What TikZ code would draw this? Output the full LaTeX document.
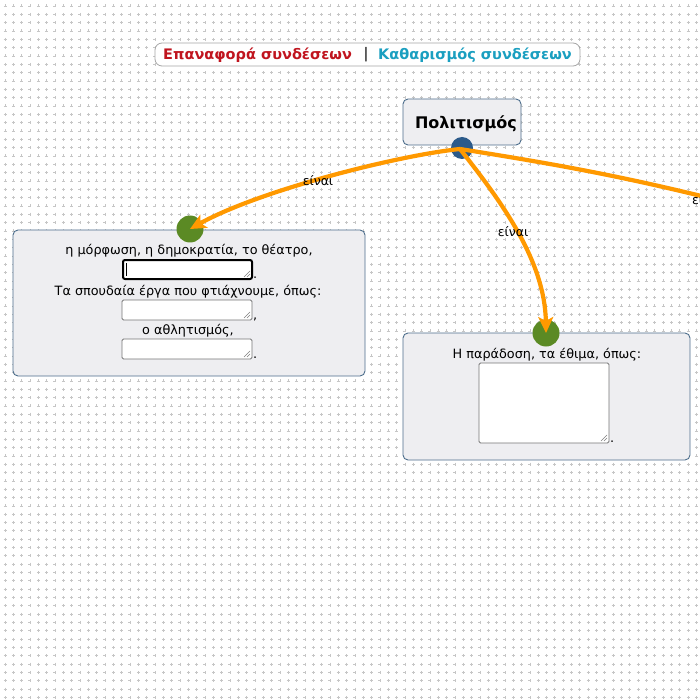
\documentclass[tikz,border=0pt]{standalone}
\usepackage{fontspec}
\setmainfont{DejaVu Sans}
\usetikzlibrary{arrows.meta}
\definecolor{boxfill}{HTML}{EEEEF1}
\definecolor{boxline}{HTML}{4D6E8C}
\definecolor{linkorange}{HTML}{FF9900}
\definecolor{dotgreen}{HTML}{5B8A24}
\definecolor{dotblue}{HTML}{2C5A8A}
\definecolor{resetred}{HTML}{C0141E}
\definecolor{clearteal}{HTML}{1A9FC0}
\definecolor{fieldline}{HTML}{767676}
\tikzset{
  conceptbox/.style={draw=boxline, line width=0.9pt, fill=boxfill, rounded corners=5pt},
  txt/.style={font=\fontsize{12.8}{14}\selectfont, inner sep=0pt, anchor=center},
  field/.style={draw=fieldline, line width=0.8pt, fill=white, rounded corners=1.5pt},
  focusfield/.style={draw=black, line width=2pt, fill=white, rounded corners=2pt},
  link/.style={draw=linkorange, line width=4.2pt, -{Stealth[length=16pt,width=15pt,inset=4pt]}},
  linklabel/.style={font=\fontsize{12.5}{14}\selectfont, inner sep=1pt},
  greendot/.style={circle, fill=dotgreen, minimum size=27pt, inner sep=0pt},
}
\begin{document}
\begin{tikzpicture}[x=1pt,y=-1pt]
\useasboundingbox (0,0) rectangle (700,700);
\clip (0,0) rectangle (700,700);
\fill[white] (0,0) rectangle (700,700);
% dotted grid
\draw[gray!45, line width=0.6pt]
  \foreach \i in {0,...,84} { \foreach \j in {0,...,84} {
    ({\i*8.33+5-1.5},{\j*8.33+6}) -- ({\i*8.33+5+1.5},{\j*8.33+6})
    ({\i*8.33+5},{\j*8.33+6-1.5}) -- ({\i*8.33+5},{\j*8.33+6+1.5}) } };

% header
\draw[gray!70, fill=white, rounded corners=7pt, line width=0.8pt] (155,43) rectangle (580,66);
\node[font=\fontsize{14.5}{16}\selectfont\bfseries, text=resetred, anchor=west, inner sep=0pt] (reset) at (163,55) {Επαναφορά συνδέσεων};
\node[font=\fontsize{14.5}{16}\selectfont, anchor=center, inner sep=0pt] (bar) at (366,55) {|};
\node[font=\fontsize{14.5}{16}\selectfont\bfseries, text=clearteal, anchor=west, inner sep=0pt] (clear) at (378,55) {Καθαρισμός συνδέσεων};

% left box
\draw[conceptbox] (13,230) rectangle (365,376);
\node[txt] (t1) at (189,251) {η μόρφωση, η δημοκρατία, το θέατρο,};
\draw[focusfield] (123,260) rectangle (252,279);
\draw[black, line width=0.8pt] (126.5,263) -- (126.5,276);
\draw[gray, line width=0.5pt] (244,277) -- (250,271) (247,277) -- (250,274);
\node[txt, anchor=base west] (p1) at (253,278) {.};
\node[txt] (t2) at (188,292) {Τα σπουδαία έργα που φτιάχνουμε, όπως:};
\draw[field] (122,300) rectangle (252,320);
\draw[gray, line width=0.5pt] (244,318) -- (250,312) (247,318) -- (250,315);
\node[txt, anchor=base west] (p2) at (253,319) {,};
\node[txt] (t3) at (188,331) {ο αθλητισμός,};
\draw[field] (122,339) rectangle (252,359);
\draw[gray, line width=0.5pt] (244,357) -- (250,351) (247,357) -- (250,354);
\node[txt, anchor=base west] (p3) at (253,358) {.};

% right box
\draw[conceptbox] (403,333) rectangle (690,460);
\node[txt] (t4) at (547,355) {Η παράδοση, τα έθιμα, όπως:};
\draw[field] (479,363) rectangle (609,443);
\draw[gray, line width=0.5pt] (601,441) -- (607,435) (604,441) -- (607,438);
\node[txt, anchor=base west] (p4) at (610,442) {.};

% main concept
\draw[conceptbox] (403,99) rectangle (521,145);
\node[font=\fontsize{16}{18}\selectfont\bfseries, inner sep=0pt] (main) at (466,124) {Πολιτισμός};
\node[circle, fill=dotblue, minimum size=22pt, inner sep=0pt] (src) at (462,148) {};

% target dots
\node[greendot] (ld) at (190,229) {};
\node[greendot] (rd) at (546,333) {};
\coordinate (s) at (460,149);
\coordinate (offright) at (800,222);

% links
\draw[link] (s) .. controls (400,155) and (260,190) .. (ld.center);
\draw[link] (s) .. controls (500,200) and (545,260) .. (rd.center);
\draw[draw=linkorange, line width=4.2pt] (s) .. controls (560,165) and (650,180) .. (offright);
\node[linklabel] (l1) at (318,181) {είναι};
\node[linklabel] (l2) at (513,232) {είναι};
\node[linklabel, anchor=west] (l3) at (691,200) {είναι};
\end{tikzpicture}
\end{document}
